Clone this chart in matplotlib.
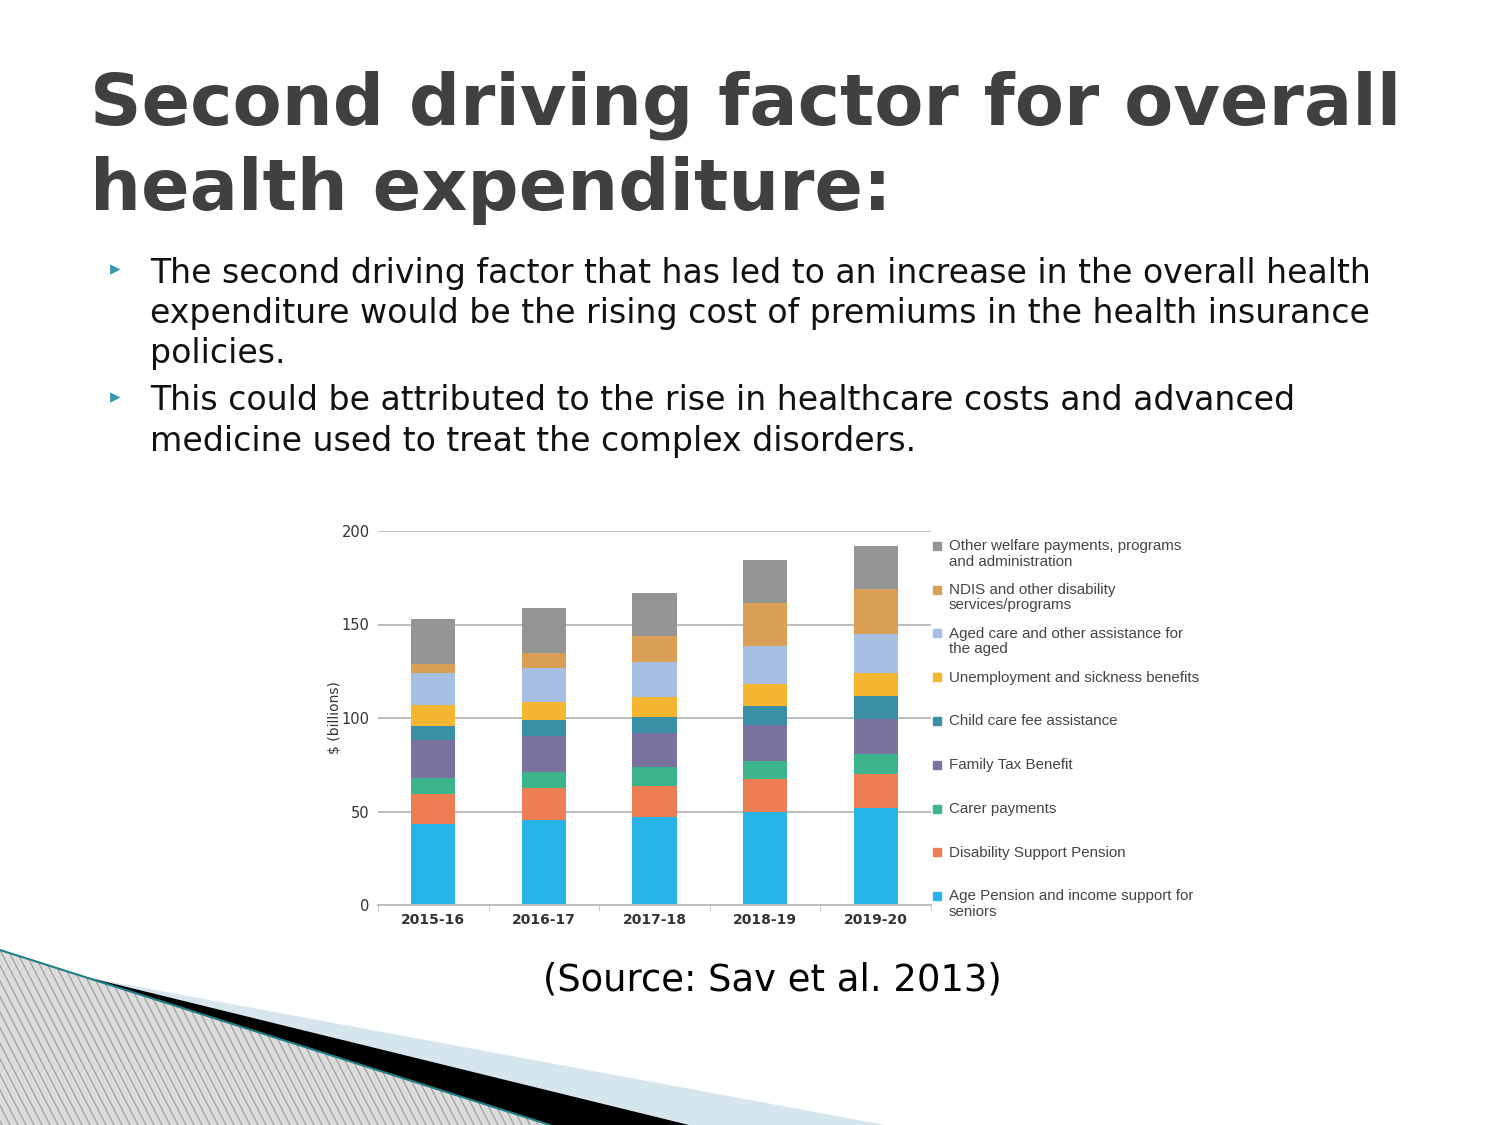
import matplotlib.pyplot as plt
import numpy as np
from matplotlib.patches import Polygon

YEARS = ["2015-16", "2016-17", "2017-18", "2018-19", "2019-20"]

# bottom -> top of each stack, $ billions
SERIES = [
    "Age Pension and income support for\nseniors",
    "Disability Support Pension",
    "Carer payments",
    "Family Tax Benefit",
    "Child care fee assistance",
    "Unemployment and sickness benefits",
    "Aged care and other assistance for\nthe aged",
    "NDIS and other disability\nservices/programs",
    "Other welfare payments, programs\nand administration",
]
age_pension = [43.4, 45.5, 47.0, 49.6, 52.1]
disability_pension = [16.1, 16.8, 16.9, 17.9, 18.1]
carer = [8.4, 8.6, 9.9, 9.6, 10.5]
family_tax = [20.5, 19.3, 18.2, 19.0, 19.0]
child_care = [7.5, 8.6, 8.5, 10.5, 12.3]
unemployment = [11.1, 10.0, 10.6, 11.6, 11.8]
aged_care = [16.8, 18.0, 18.7, 20.2, 20.9]
ndis = [5.1, 7.9, 14.0, 23.2, 24.4]
other = [24.3, 24.1, 22.8, 22.7, 22.9]
VALUES = [age_pension, disability_pension, carer, family_tax, child_care,
          unemployment, aged_care, ndis, other]

COLORS = ["#29b4e8", "#ec7d55", "#3db58c", "#7b72a0", "#3a8fa6",
          "#f6b630", "#a6bfe3", "#d9a055", "#959595"]

TITLE = ["Second driving factor for overall", "health expenditure:"]
BULLETS = [
    ["The second driving factor that has led to an increase in the overall health",
     "expenditure would be the rising cost of premiums in the health insurance",
     "policies."],
    ["This could be attributed to the rise in healthcare costs and advanced",
     "medicine used to treat the complex disorders."],
]
SOURCE = "(Source: Sav et al. 2013)"

fig = plt.figure(figsize=(15, 11.25), dpi=100)

# background decoration in pixel coordinates
bg = fig.add_axes([0, 0, 1, 1], zorder=0)
bg.set_xlim(0, 1500)
bg.set_ylim(1125, 0)
bg.axis("off")
bg.add_patch(Polygon([(85, 977), (885, 1125), (689, 1125)], closed=True,
                     color="#d5e6ee", lw=0))
bg.add_patch(Polygon([(78, 975), (689, 1125), (550, 1125)], closed=True,
                     color="black", lw=0))
hatch = Polygon([(0, 950), (550, 1125), (0, 1125)], closed=True,
                facecolor="#dcdcdc", lw=0)
bg.add_patch(hatch)
for x0 in np.arange(-200, 560, 8):
    ln, = bg.plot([x0, x0 + 90], [950, 1125], color="#9a9a9a", lw=0.8)
    ln.set_clip_path(hatch)
bg.plot([0, 550], [950, 1125], color="#1f7f8a", lw=1.5)

# slide text
for line, base in zip(TITLE, [125, 210]):
    fig.text(90, 1125 - base, line, transform=None, fontsize=51.5,
             fontweight="bold", color="#404040", va="baseline")
y = 273
for lines in BULLETS:
    fig.text(115, 1125 - y + 4, "\u25b8", transform=None, fontsize=15,
             color="#3a9ab5", ha="center", va="center")
    for line in lines:
        fig.text(150, 1125 - y, line, transform=None, fontsize=23.9,
                 color="#111111", va="center")
        y += 40
    y += 8
fig.text(772, 1125 - 980, SOURCE, transform=None, fontsize=26.6,
         color="black", ha="center", va="center")

# chart
ax = fig.add_axes([378 / 1500, 1 - 905 / 1125, 553 / 1500, 374 / 1125], zorder=1)
ax.patch.set_alpha(0)
x = np.arange(len(YEARS))
bottom = np.zeros(len(YEARS))
for vals, color in zip(VALUES, COLORS):
    ax.bar(x, vals, 0.4, bottom=bottom, color=color, zorder=2)
    bottom += np.array(vals)

ax.set_xlim(-0.5, 4.5)
ax.set_ylim(0, 200)
ax.set_yticks([0, 50, 100, 150, 200])
ax.yaxis.grid(True, color="#bdbdbd", lw=1.4, zorder=0)
ax.set_axisbelow(True)
for side in ["top", "right", "left"]:
    ax.spines[side].set_visible(False)
ax.spines["bottom"].set_color("#bdbdbd")
ax.spines["bottom"].set_linewidth(1.4)
ax.tick_params(axis="y", length=0, labelsize=10.5, labelcolor="#333333", pad=6)
ax.set_xticks(x)
ax.set_xticklabels(YEARS, fontsize=10, color="#333333", fontweight="semibold")
ax.tick_params(axis="x", which="major", length=0, pad=6)
ax.set_xticks(np.arange(-0.5, 5, 1), minor=True)
ax.tick_params(axis="x", which="minor", length=4, color="#bdbdbd", direction="out")
ax.set_ylabel("$ (billions)", fontsize=10, color="#333333", labelpad=0)

# legend, top entry first
for i, (name, color) in enumerate(zip(SERIES[::-1], COLORS[::-1])):
    ly = 192.0 - i * 23.4
    ax.plot([1.0115], [ly], marker="s", ms=5.5, color=color, lw=0,
            transform=ax.get_yaxis_transform(), clip_on=False)
    ax.text(1.0325, ly + 3.5, name, transform=ax.get_yaxis_transform(),
            fontsize=10.9, color="#444444", va="top", linespacing=1.1,
            family="Liberation Sans")

fig.savefig("out.png", dpi=100)
